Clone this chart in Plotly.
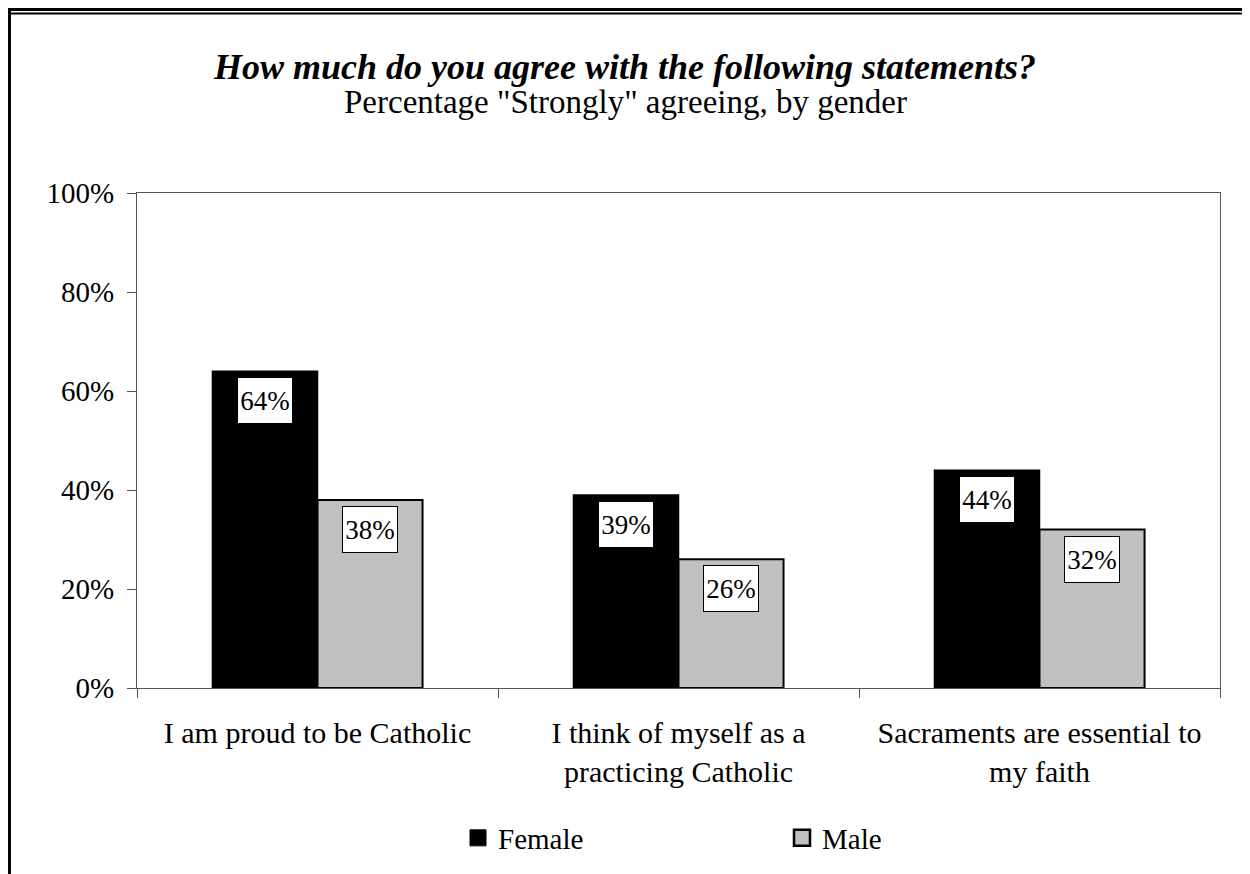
"""Catholic identity survey - percentage 'Strongly' agreeing, by gender."""

import plotly.graph_objects as go

CATEGORIES = [
    "I am proud to be Catholic",
    "I think of myself as a<br>practicing Catholic",
    "Sacraments are essential to<br>my faith",
]
FEMALE = [64, 39, 44]
MALE = [38, 26, 32]
Y_TICKS = [0, 20, 40, 60, 80, 100]

W, H = 1250, 874
ML, MR, MT, MB = 129, 38, 185, 194
FONT = "Liberation Serif, Times New Roman, serif"
GRAY = "#c0c0c0"
plot_w = W - ML - MR
plot_h = H - MT - MB


def px_x(p):
    return (p - ML) / plot_w


def px_y(p):
    return (H - MB - p) / plot_h


fig = go.Figure()
fig.add_trace(go.Bar(name="Female", x=CATEGORIES, y=FEMALE, showlegend=False,
                     marker=dict(color="black", line=dict(color="black", width=1.5))))
fig.add_trace(go.Bar(name="Male", x=CATEGORIES, y=MALE, showlegend=False,
                     marker=dict(color=GRAY, line=dict(color="black", width=2))))

# legend-only markers (bar legend swatches are too small)
fig.add_trace(go.Scatter(name="Female", x=[CATEGORIES[0]], y=[None], mode="markers",
                         marker=dict(symbol="square", size=16, color="black",
                                     line=dict(color="black", width=1))))
fig.add_trace(go.Scatter(name="Male", x=[CATEGORIES[0]], y=[None], mode="markers",
                         marker=dict(symbol="square", size=16, color=GRAY,
                                     line=dict(color="black", width=2.5))))

# boxed value labels just inside the top of each bar
bar_w = plot_w / len(CATEGORIES) * (1 - 0.418) / 2
for series, shift in ((FEMALE, -bar_w / 2), (MALE, bar_w / 2)):
    for cat, val in zip(CATEGORIES, series):
        fig.add_annotation(
            x=cat, y=val, text=f"{val}%", showarrow=False,
            xshift=shift, yanchor="top", yshift=-6,
            width=54, height=45, borderpad=0, borderwidth=1,
            bordercolor="black", bgcolor="white",
            font=dict(family=FONT, size=27, color="black"),
        )

# subtitle
fig.add_annotation(
    text='Percentage "Strongly" agreeing, by gender', showarrow=False,
    xref="paper", yref="paper", x=0.5 + (625 - 8 - (ML + plot_w / 2)) / plot_w,
    y=px_y(94), yanchor="middle", xanchor="center",
    font=dict(family=FONT, size=33, color="black"),
)

# outer frame (top double rule + heavy left rule)
frame = [
    (px_x(0), px_y(1.5), px_x(W + 5), px_y(1.5), 3),
    (px_x(3), px_y(5.5), px_x(W + 5), px_y(5.5), 1.8),
    (px_x(1), px_y(0), px_x(1), px_y(H + 5), 4),
]
for x0, y0, x1, y1, lw in frame:
    fig.add_shape(type="line", xref="paper", yref="paper", x0=x0, y0=y0, x1=x1, y1=y1,
                  line=dict(color="black", width=lw))

fig.update_layout(
    width=W, height=H,
    margin=dict(l=ML, r=MR, t=MT, b=MB),
    paper_bgcolor="white", plot_bgcolor="white",
    font=dict(family=FONT, size=28, color="black"),
    barmode="group", bargap=0.418, bargroupgap=0,
    title=dict(
        text="<b><i>How much do you agree with the following statements?</i></b>",
        x=(625 - 8) / W, xanchor="center", xref="container",
        y=1 - 58 / H, yanchor="middle", yref="container",
        font=dict(family=FONT, size=36, color="black"),
    ),
    xaxis=dict(
        type="category", tickson="boundaries", ticks="outside", ticklen=9,
        tickcolor="#555", linecolor="#555", linewidth=1.2, mirror=True,
        showgrid=False, tickfont=dict(size=30), ticklabelstandoff=18,
    ),
    yaxis=dict(
        range=[0, 100], tickvals=Y_TICKS, ticktext=[f"{v}%" for v in Y_TICKS],
        ticks="outside", ticklen=9, tickcolor="#555", linecolor="#555",
        linewidth=1.2, mirror=True, showgrid=False, zeroline=False,
        ticklabelstandoff=7, tickfont=dict(size=29),
    ),
    legend=dict(
        orientation="h", x=px_x(450), xanchor="left",
        y=px_y(830), yanchor="middle",
        entrywidth=279, entrywidthmode="pixels",
        font=dict(size=29), bgcolor="rgba(0,0,0,0)",
    ),
)

fig.write_html("out.html")
